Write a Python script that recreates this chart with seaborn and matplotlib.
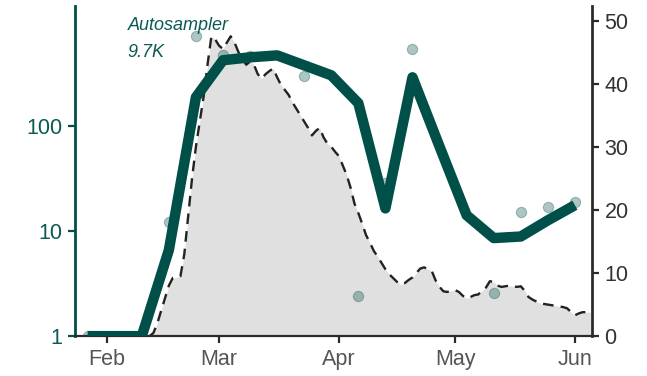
import pandas as pd
import numpy as np
import matplotlib
matplotlib.use("Agg")
import matplotlib.pyplot as plt
import matplotlib.dates as mdates
import matplotlib.ticker as mticker
import seaborn as sns

# weekly autosampler counts (left axis, log scale)
week_dates = ["2020-01-27", "2020-02-03", "2020-02-10", "2020-02-17", "2020-02-24",
              "2020-03-02", "2020-03-09", "2020-03-16", "2020-03-23", "2020-03-30",
              "2020-04-06", "2020-04-13", "2020-04-20", "2020-04-27", "2020-05-04",
              "2020-05-11", "2020-05-18", "2020-05-25", "2020-06-01"]
week_counts = [1, 1, 1, 6.6, 189, 426, 454, 474, 381, 306,
               166, 16.5, 293, 64, 14.2, 8.6, 8.9, 12.7, 17.7]

# individual sample values (left axis)
sample_dates = ["2020-01-27", "2020-02-17", "2020-02-24", "2020-03-02", "2020-03-09",
                "2020-03-23", "2020-04-06", "2020-04-13", "2020-04-20", "2020-05-11",
                "2020-05-18", "2020-05-25", "2020-06-01"]
sample_counts = [1, 12.2, 720, 474, 470, 300, 2.4, 29, 541, 2.6, 15.2, 16.9, 18.9]

# daily cases (right axis), starting 2020-02-12
case_start = "2020-02-12"
case_values = [0, 0.5, 2, 4, 6, 8, 9.2, 9.3, 9.5, 13,
               19, 25, 30, 34, 38, 43, 47.5, 47, 46, 45.5,
               46.5, 47.5, 46.5, 45, 44, 43, 43.5, 43, 41.5, 40.8,
               41.5, 42, 42.4, 41, 39.8, 39, 38.2, 37, 36, 35,
               34, 33, 31.8, 32.5, 33, 31.5, 30.5, 30, 29.2, 28.5,
               27, 25.5, 23.5, 21, 19.5, 17.8, 16, 14.8, 13.5, 12.6,
               11.6, 10.6, 9.8, 9.2, 8.6, 8.2, 8.4, 8.9, 9.3, 10,
               10.7, 10.9, 10.6, 10.3, 8.8, 7.8, 7.1, 7.0, 7.2, 7.3,
               7.0, 6.4, 6.0, 6.2, 6.5, 6.6, 7.2, 7.7, 8.7, 8.6,
               8.0, 7.8, 7.9, 8.0, 7.9, 7.8, 7.9, 7.2, 6.2, 5.8,
               5.5, 5.2, 5.1, 5.0, 4.9, 4.8, 4.7, 4.6, 4.4, 3.8,
               3.3, 3.6, 3.8, 3.8, 3.8]

TEAL = "#004f49"
TEAL_TXT = "#0b5a55"
DARK = "#2b2b2b"

weekly = pd.DataFrame({"date": pd.to_datetime(week_dates), "count": week_counts})
samples = pd.DataFrame({"date": pd.to_datetime(sample_dates), "count": sample_counts})
cases = pd.DataFrame({"date": pd.date_range(case_start, periods=len(case_values), freq="D"),
                      "cases": case_values})

sns.set_style("ticks")
plt.rcParams["font.family"] = ["Liberation Sans", "DejaVu Sans"]

fig = plt.figure(figsize=(6.47, 3.76), dpi=100)
ax = fig.add_axes([0.116, 0.106, 0.799, 0.878])
ax2 = ax.twinx()

# right axis: daily cases
ax2.fill_between(cases["date"], cases["cases"], 0, color="#e0e0e0", lw=0)
sns.lineplot(data=cases, x="date", y="cases", ax=ax2, color="#222222",
             linewidth=1.7, linestyle=(0, (4.5, 3)))
ax2.set_ylim(0, 52.3)
ax2.set_yticks([0, 10, 20, 30, 40, 50])

# left axis: autosampler
ax.set_zorder(ax2.get_zorder() + 1)
ax.patch.set_visible(False)
sns.scatterplot(data=samples, x="date", y="count", ax=ax, color=TEAL, alpha=0.32,
                s=55, edgecolor=TEAL, linewidth=0.8, zorder=2)
sns.lineplot(data=weekly, x="date", y="count", ax=ax, color=TEAL, linewidth=7.5,
             zorder=3, solid_joinstyle="round", solid_capstyle="butt")
ax.set_yscale("log")
ax.set_ylim(1, 1400)
ax.set_yticks([1, 10, 100])
ax.yaxis.set_major_formatter(mticker.FuncFormatter(lambda v, p: f"{v:g}"))
ax.yaxis.set_minor_locator(mticker.NullLocator())

ax.set_xlim(pd.Timestamp("2020-01-23 18:00"), pd.Timestamp("2020-06-05 10:00"))
ax.xaxis.set_major_locator(mdates.MonthLocator())
ax.xaxis.set_major_formatter(mdates.DateFormatter("%b"))

for a in (ax, ax2):
    a.set_xlabel("")
    a.set_ylabel("")
    for s in a.spines.values():
        s.set_visible(False)

ax.spines["left"].set_visible(True)
ax.spines["left"].set_color(TEAL)
ax.spines["left"].set_linewidth(2)
ax.spines["bottom"].set_visible(True)
ax.spines["bottom"].set_color(DARK)
ax.spines["bottom"].set_linewidth(1.6)
ax2.spines["right"].set_visible(True)
ax2.spines["right"].set_color(DARK)
ax2.spines["right"].set_linewidth(2)

ax.tick_params(axis="y", colors=TEAL, labelcolor=TEAL_TXT, labelsize=15.5,
               length=5, width=1.6, pad=4)
ax.tick_params(axis="x", colors=DARK, labelcolor="#555555", labelsize=15.5,
               length=5, width=1.6, pad=4)
ax2.tick_params(axis="y", colors=DARK, labelcolor="#333333", labelsize=15.5,
                length=5, width=1.6, pad=4)

ax.text(0.102, 0.942, "Autosampler", transform=ax.transAxes, color=TEAL_TXT,
        fontsize=13, style="italic", va="center", ha="left")
ax.text(0.102, 0.858, "9.7K", transform=ax.transAxes, color=TEAL_TXT,
        fontsize=13, style="italic", va="center", ha="left")

fig.savefig("out.png", dpi=100)
